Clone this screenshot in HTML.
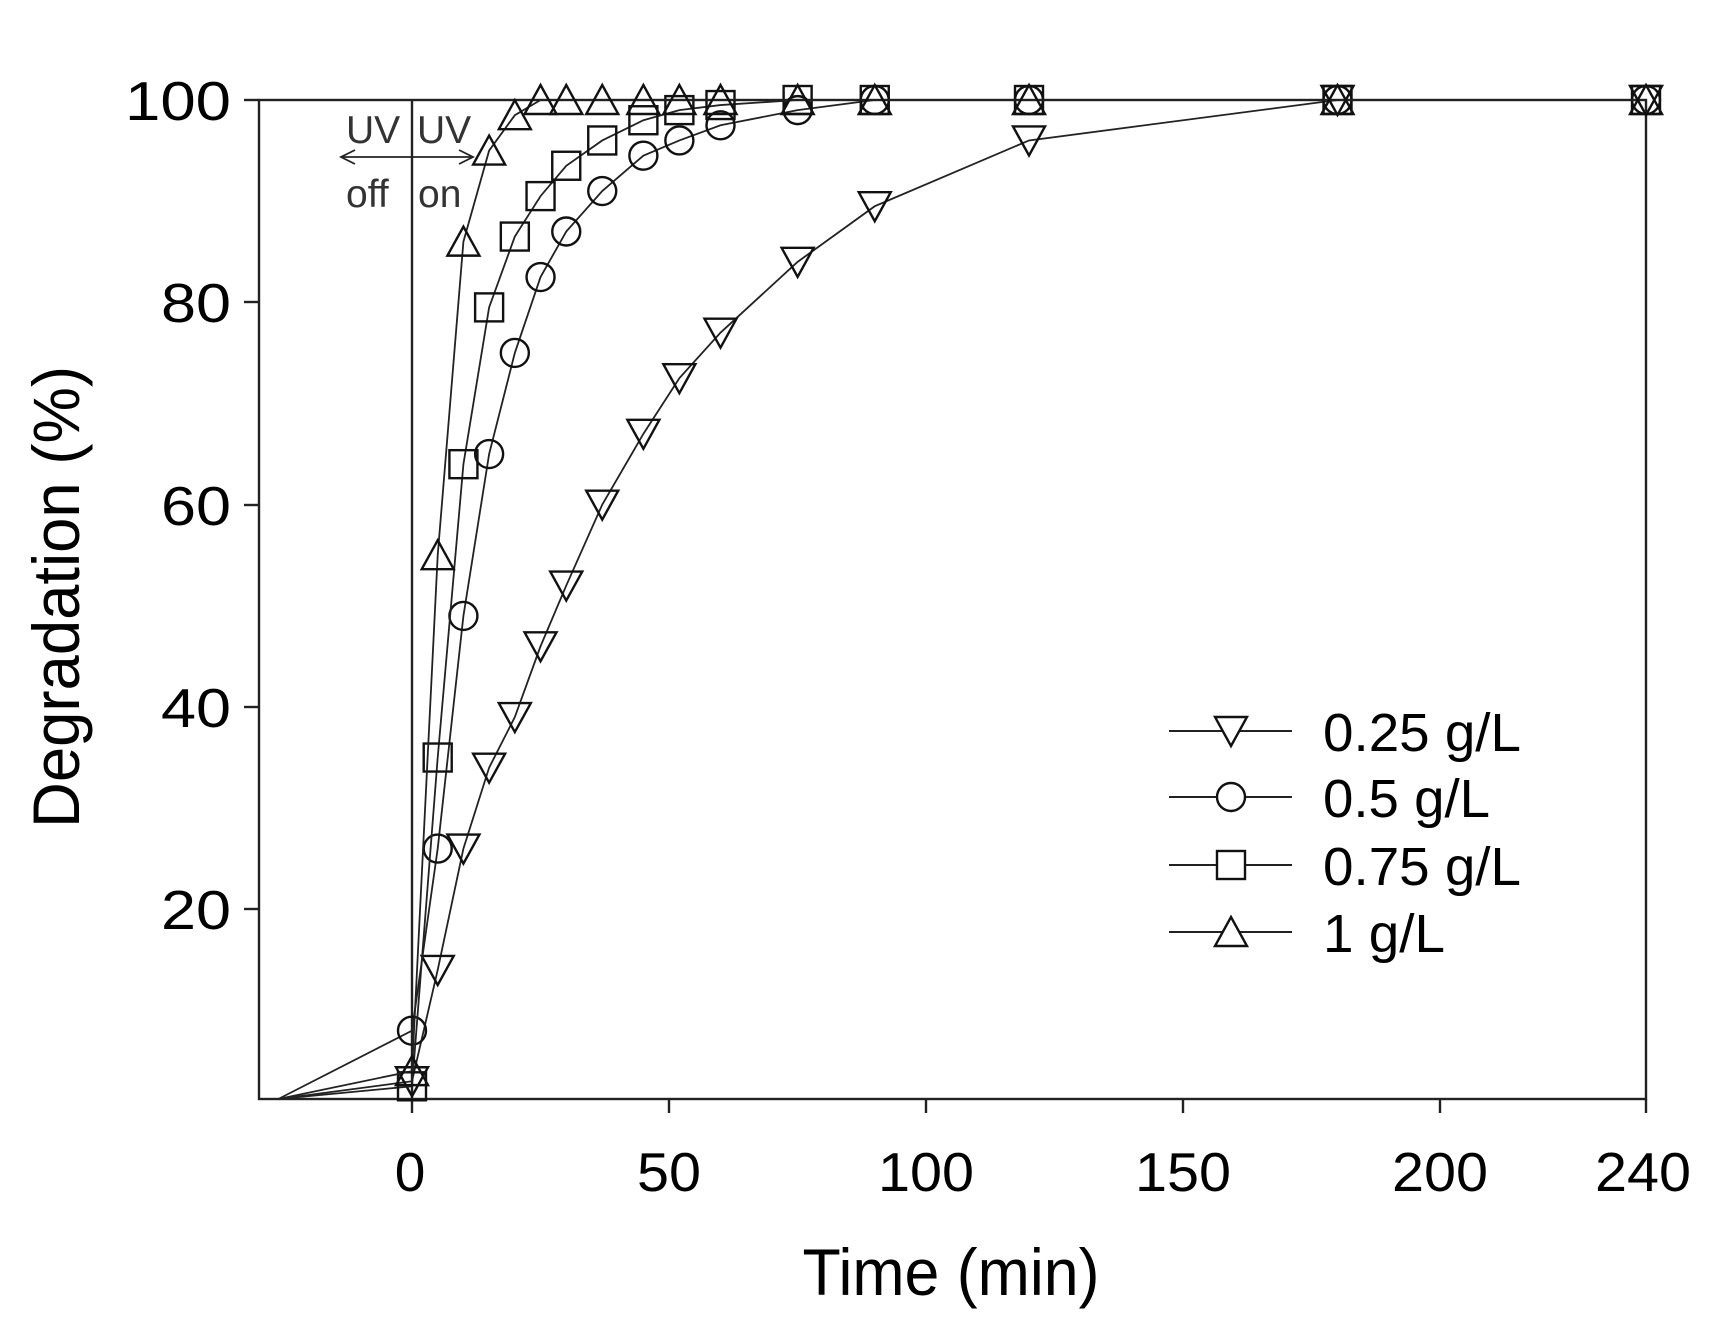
<!DOCTYPE html>
<html><head><meta charset="utf-8"><style>
html,body{margin:0;padding:0;background:#fff}
svg{display:block}
text{font-family:"Liberation Sans",Arial,sans-serif;fill:#000}
</style></head><body>
<svg id="s" width="1724" height="1339" viewBox="0 0 1724 1339" xmlns="http://www.w3.org/2000/svg">
<g stroke="#222" stroke-width="2.4" fill="none">
<rect x="259" y="100" width="1387" height="999"/>
<line x1="412" y1="100" x2="412" y2="1099"/>
<line x1="244" y1="100" x2="259" y2="100"/>
<line x1="244" y1="302" x2="259" y2="302"/>
<line x1="244" y1="505" x2="259" y2="505"/>
<line x1="244" y1="707" x2="259" y2="707"/>
<line x1="244" y1="909" x2="259" y2="909"/>
<line x1="412" y1="1099" x2="412" y2="1113"/>
<line x1="669" y1="1099" x2="669" y2="1113"/>
<line x1="926" y1="1099" x2="926" y2="1113"/>
<line x1="1183" y1="1099" x2="1183" y2="1113"/>
<line x1="1440" y1="1099" x2="1440" y2="1113"/>
<line x1="1646" y1="1099" x2="1646" y2="1113"/>
<line x1="341" y1="157" x2="473" y2="157" stroke-width="1.8"/>
<polyline points="355,150 341,157 355,164" stroke-width="1.8"/>
<polyline points="459,150 473,157 459,164" stroke-width="1.8"/>
</g>
<g font-size="55" text-anchor="end">
<text x="231" y="120" textLength="106" lengthAdjust="spacingAndGlyphs">100</text>
<text x="231" y="322" textLength="70" lengthAdjust="spacingAndGlyphs">80</text>
<text x="231" y="525" textLength="70" lengthAdjust="spacingAndGlyphs">60</text>
<text x="231" y="727" textLength="70" lengthAdjust="spacingAndGlyphs">40</text>
<text x="231" y="929" textLength="70" lengthAdjust="spacingAndGlyphs">20</text>
</g>
<g font-size="55" text-anchor="middle">
<text x="410" y="1191">0</text>
<text x="669" y="1191" textLength="64" lengthAdjust="spacingAndGlyphs">50</text>
<text x="926" y="1191" textLength="96" lengthAdjust="spacingAndGlyphs">100</text>
<text x="1183" y="1191" textLength="96" lengthAdjust="spacingAndGlyphs">150</text>
<text x="1440" y="1191" textLength="96" lengthAdjust="spacingAndGlyphs">200</text>
<text x="1643" y="1191" textLength="96" lengthAdjust="spacingAndGlyphs">240</text>
</g>
<text x="951" y="1295" font-size="66" text-anchor="middle" textLength="297" lengthAdjust="spacingAndGlyphs">Time (min)</text>
<text transform="translate(79,597) rotate(-90)" font-size="66" text-anchor="middle" textLength="462" lengthAdjust="spacingAndGlyphs">Degradation (%)</text>
<g font-size="39">
<text x="346" y="143" style="fill:#333">UV</text><text x="417" y="143" style="fill:#333">UV</text>
<text x="346" y="207" style="fill:#333">off</text><text x="418" y="207" style="fill:#333">on</text>
</g>
<g id="plot"></g>
<g font-size="54">
<text x="1323" y="751" textLength="198" lengthAdjust="spacingAndGlyphs">0.25 g/L</text>
<text x="1323" y="817" textLength="167" lengthAdjust="spacingAndGlyphs">0.5 g/L</text>
<text x="1323" y="885" textLength="198" lengthAdjust="spacingAndGlyphs">0.75 g/L</text>
<text x="1323" y="952" textLength="122" lengthAdjust="spacingAndGlyphs">1 g/L</text>
</g>
</svg>
<script>
var X=t=>412+t*5.1417, Y=v=>1111.6-v*10.116;
var T=[0,5,10,15,20,25,30,37,45,52,60,75,90,120,180,240];
var S=[
 ['d',[3,14,26,34,39,46,52,60,67,72.5,77,84,89.5,96,100,100]],
 ['c',[8,26,49,65,75,82.5,87,91,94.5,96,97.5,99,100,100,100,100]],
 ['s',[2.5,35,64,79.5,86.5,90.5,93.5,96,98,99,99.5,100,100,100,100,100]],
 ['u',[4,55,86,95,98.5,100,100,100,100,100,100,100,100,100,100,100]]];
var g=document.getElementById('plot'),h='';
function mk(k,x,y){
 if(k=='d')return '<polygon points="'+(x-16)+','+(y-14)+' '+(x+16)+','+(y-14)+' '+x+','+(y+15)+'"/>';
 if(k=='u')return '<polygon points="'+(x-16)+','+(y+14)+' '+(x+16)+','+(y+14)+' '+x+','+(y-15)+'"/>';
 if(k=='c')return '<circle cx="'+x+'" cy="'+y+'" r="14"/>';
 return '<rect x="'+(x-14)+'" y="'+(y-14)+'" width="28" height="28"/>';
}
S.forEach(s=>{
 var p=[[X(-26),1099]].concat(T.map((t,i)=>[X(t),Y(s[1][i])]));
 h+='<polyline fill="none" stroke="#222" stroke-width="1.8" points="'+p.map(a=>a.join(',')).join(' ')+'"/>';
 h+='<g fill="none" stroke="#111" stroke-width="2.4">';
 T.forEach((t,i)=>{h+=mk(s[0],X(t),Y(s[1][i]));});
 h+='</g>';
});
var ly=[731,797,865,932];
S.forEach((s,i)=>{
 h+='<line x1="1169" y1="'+ly[i]+'" x2="1292" y2="'+ly[i]+'" stroke="#222" stroke-width="2"/>';
 h+='<g fill="#fff" stroke="#111" stroke-width="2.4">'+mk(s[0],1231,ly[i])+'</g>';
});
g.innerHTML=h;
</script>
</body></html>
